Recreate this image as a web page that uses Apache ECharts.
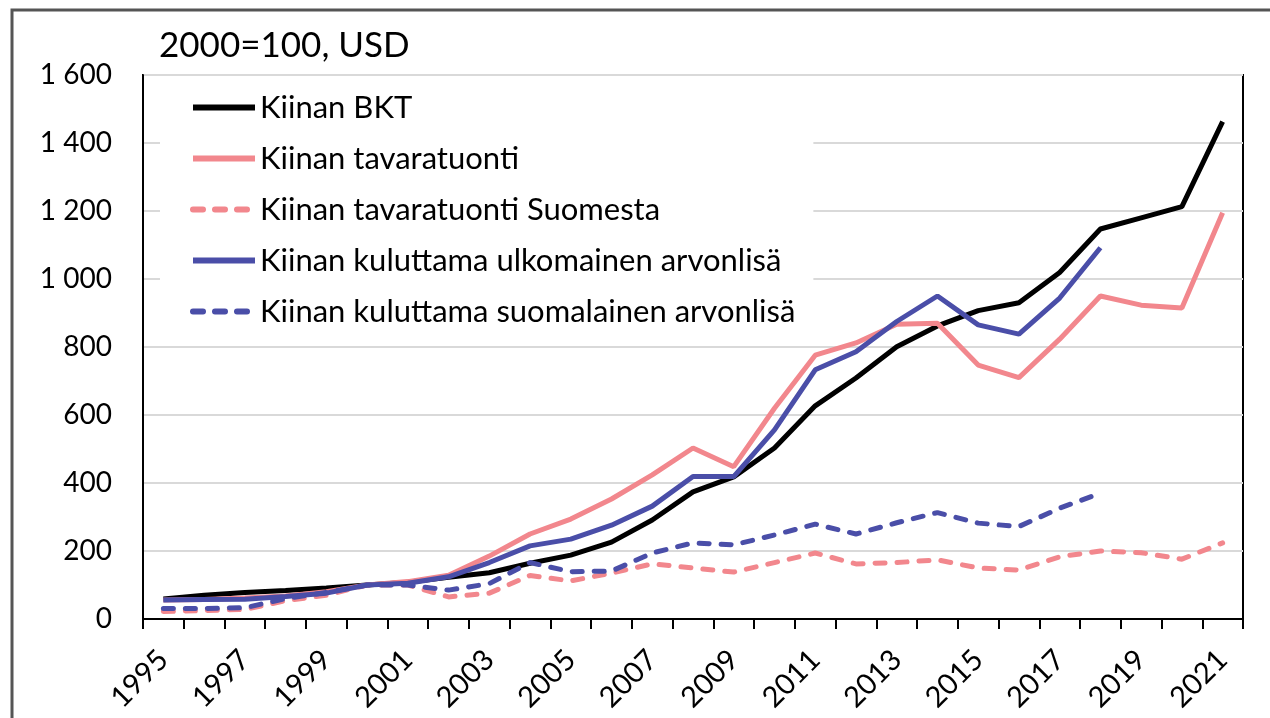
<!DOCTYPE html>
<html>
<head>
<meta charset="utf-8">
<title>Kiinan BKT ja tuonti</title>
<script src="https://cdn.jsdelivr.net/npm/echarts@6/dist/echarts.min.js"></script>
<style>
  html, body { margin: 0; padding: 0; background: #fff; }
  #main { width: 1270px; height: 718px; }
</style>
</head>
<body>
<div id="main"></div>
<script>
// vuodet
const years = ["1995", "1996", "1997", "1998", "1999", "2000", "2001", "2002", "2003", "2004",
  "2005", "2006", "2007", "2008", "2009", "2010", "2011", "2012", "2013", "2014",
  "2015", "2016", "2017", "2018", "2019", "2020", "2021"];

// 2000=100, USD
const bkt = [59, 70, 78, 84, 91, 100, 108, 123, 136, 164, 188, 226, 291, 374, 418, 503, 627, 709, 801, 862, 907, 930, 1019, 1147, 1180, 1213, 1463];
const tavaratuonti = [56, 57, 62, 68, 80, 100, 110, 129, 185, 250, 294, 353, 424, 503, 448, 620, 776, 812, 867, 870, 747, 710, 823, 950, 923, 915, 1195];
const tuontiSuomesta = [22, 25, 28, 54, 70, 100, 100, 65, 76, 128, 112, 135, 162, 150, 138, 166, 194, 162, 166, 174, 150, 144, 183, 200, 195, 176, 224];
const ulkomainenArvonlisa = [56, 57, 58, 66, 76, 100, 105, 124, 166, 215, 235, 276, 332, 419, 419, 556, 733, 786, 875, 950, 865, 838, 944, 1092];
const suomalainenArvonlisa = [31, 31, 33, 60, 78, 100, 100, 85, 104, 166, 139, 141, 194, 224, 218, 247, 279, 250, 283, 313, 282, 272, 326, 370];

const seriesNames = [
  "Kiinan BKT",
  "Kiinan tavaratuonti",
  "Kiinan tavaratuonti Suomesta",
  "Kiinan kuluttama ulkomainen arvonlisä",
  "Kiinan kuluttama suomalainen arvonlisä"
];

const yTicks = { min: 0, max: 1600, step: 200 };

const PINK = "#f2878d";
const BLUE = "#4a4ea8";
const FONT = "Lato";

// 1 600 -tyylinen muotoilu
function fmt(v) {
  if (v < 1000) return String(v);
  return Math.floor(v / 1000) + " " + String(v % 1000).padStart(3, "0");
}

function lineSeries(name, data, color, dashed) {
  return {
    name: name,
    type: "line",
    data: data,
    symbol: "none",
    smooth: false,
    lineStyle: {
      color: color,
      width: 5,
      type: dashed ? [10, 12] : "solid",
      cap: dashed ? "round" : "butt"
    },
    itemStyle: { color: color }
  };
}

const chart = echarts.init(document.getElementById("main"));

const option = {
  animation: false,
  textStyle: { fontFamily: FONT },
  title: {
    text: "2000=100, USD",
    left: 154,
    top: 23,
    textStyle: { fontFamily: FONT, fontSize: 35, fontWeight: "normal", color: "#000" }
  },
  // ulkokehys
  graphic: [
    {
      type: "rect",
      shape: { x: 12, y: 10, width: 1280, height: 740 },
      style: { fill: "none", stroke: "#555", lineWidth: 3 },
      silent: true
    }
  ],
  legend: {
    orient: "vertical",
    left: 160,
    top: 77,
    padding: [15, 18, 12, 30],
    backgroundColor: "#fff",
    itemWidth: 62,
    itemHeight: 20,
    itemGap: 20,
    data: seriesNames,
    // vain viiva, ei pistettä
    itemStyle: { opacity: 0 },
    lineStyle: { width: 6 },
    textStyle: { fontFamily: FONT, fontSize: 31, color: "#000", lineHeight: 31 }
  },
  grid: {
    left: 143,
    right: 27,
    top: 75,
    bottom: 99,
    show: true,
    borderColor: "#000",
    borderWidth: 2
  },
  xAxis: {
    type: "category",
    data: years,
    boundaryGap: true,
    axisLine: { lineStyle: { color: "#000", width: 2 } },
    axisTick: { show: true, interval: 0, length: 10, lineStyle: { color: "#000", width: 2 } },
    axisLabel: {
      interval: 1,
      rotate: 45,
      margin: 36,
      color: "#000",
      fontFamily: FONT,
      fontSize: 29
    }
  },
  yAxis: {
    type: "value",
    min: yTicks.min,
    max: yTicks.max,
    interval: yTicks.step,
    axisLine: { show: true, lineStyle: { color: "#000", width: 2 } },
    axisTick: { show: false },
    axisLabel: {
      margin: 31,
      color: "#000",
      fontFamily: FONT,
      fontSize: 28,
      formatter: fmt
    },
    splitLine: { lineStyle: { color: "#d9d9d9", width: 2 } }
  },
  series: [
    lineSeries(seriesNames[0], bkt, "#000", false),
    lineSeries(seriesNames[1], tavaratuonti, PINK, false),
    lineSeries(seriesNames[2], tuontiSuomesta, PINK, true),
    lineSeries(seriesNames[3], ulkomainenArvonlisa, BLUE, false),
    lineSeries(seriesNames[4], suomalainenArvonlisa, BLUE, true)
  ]
};

chart.setOption(option);
</script>
</body>
</html>
